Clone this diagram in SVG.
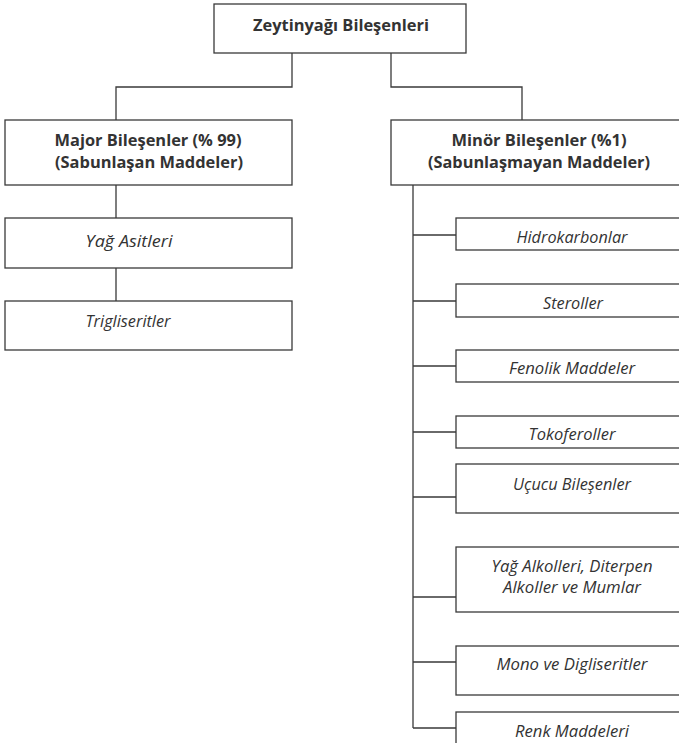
<svg xmlns="http://www.w3.org/2000/svg" width="679" height="743" viewBox="0 0 679 743">
<style>
.box{fill:#fff;stroke:#3a3a3a;stroke-width:1.3}
.ln{fill:none;stroke:#3a3a3a;stroke-width:1.3}
.b{font-family:"Open Sans","Liberation Sans",sans-serif;font-weight:bold;font-size:16.5px;fill:#333;text-anchor:middle}
.i{font-family:"Open Sans","Liberation Sans",sans-serif;font-style:italic;font-size:17px;fill:#333;text-anchor:middle}
</style>
<rect width="679" height="743" fill="#fff"/>
<g id="connectors">
<path class="ln" d="M292 53V87H116V120M391 53V87H522V120"/>
<path class="ln" d="M116 185V218M116 268V301"/>
<path class="ln" d="M413 185V728M413 235H456M413 301H456M413 366H456M413 432H456M413 497H456M413 597H456M413 662H456M413 728H456"/>
</g>
<g id="n-root"><rect class="box" x="214" y="4" width="252" height="49"/><text class="b" x="341" y="31" textLength="176" lengthAdjust="spacingAndGlyphs">Zeytinyağı Bileşenleri</text></g>
<g id="n-major"><rect class="box" x="5" y="120" width="287" height="65"/><text class="b" x="148" y="146" textLength="187" lengthAdjust="spacingAndGlyphs">Major Bileşenler (% 99)</text><text class="b" x="149" y="168" textLength="188" lengthAdjust="spacingAndGlyphs">(Sabunlaşan Maddeler)</text></g>
<g id="n-minor"><rect class="box" x="391" y="120" width="298" height="65"/><text class="b" x="539" y="146" textLength="175" lengthAdjust="spacingAndGlyphs">Minör Bileşenler (%1)</text><text class="b" x="539" y="168" textLength="222" lengthAdjust="spacingAndGlyphs">(Sabunlaşmayan Maddeler)</text></g>
<g id="n-yag"><rect class="box" x="5" y="218" width="287" height="50"/><text class="i" x="129" y="247" textLength="87" lengthAdjust="spacingAndGlyphs">Yağ Asitleri</text></g>
<g id="n-trig"><rect class="box" x="5" y="301" width="287" height="49"/><text class="i" x="128" y="327" textLength="85" lengthAdjust="spacingAndGlyphs">Trigliseritler</text></g>
<g id="n-hidro"><rect class="box" x="456" y="218" width="233" height="32"/><text class="i" x="572" y="243" textLength="111" lengthAdjust="spacingAndGlyphs">Hidrokarbonlar</text></g>
<g id="n-ster"><rect class="box" x="456" y="284" width="233" height="33"/><text class="i" x="573" y="309" textLength="60" lengthAdjust="spacingAndGlyphs">Steroller</text></g>
<g id="n-fenol"><rect class="box" x="456" y="350" width="233" height="32"/><text class="i" x="572" y="374" textLength="126" lengthAdjust="spacingAndGlyphs">Fenolik Maddeler</text></g>
<g id="n-toko"><rect class="box" x="456" y="416" width="233" height="32"/><text class="i" x="572" y="440" textLength="87" lengthAdjust="spacingAndGlyphs">Tokoferoller</text></g>
<g id="n-ucucu"><rect class="box" x="456" y="464" width="233" height="49"/><text class="i" x="572" y="490" textLength="118" lengthAdjust="spacingAndGlyphs">Uçucu Bileşenler</text></g>
<g id="n-alkol"><rect class="box" x="456" y="547" width="233" height="65"/><text class="i" x="572" y="572" textLength="161" lengthAdjust="spacingAndGlyphs">Yağ Alkolleri, Diterpen</text><text class="i" x="572" y="593" textLength="138" lengthAdjust="spacingAndGlyphs">Alkoller ve Mumlar</text></g>
<g id="n-mono"><rect class="box" x="456" y="646" width="233" height="49"/><text class="i" x="572" y="670" textLength="151" lengthAdjust="spacingAndGlyphs">Mono ve Digliseritler</text></g>
<g id="n-renk"><rect class="box" x="456" y="712" width="233" height="50"/><text class="i" x="572" y="737" textLength="114" lengthAdjust="spacingAndGlyphs">Renk Maddeleri</text></g>
</svg>
